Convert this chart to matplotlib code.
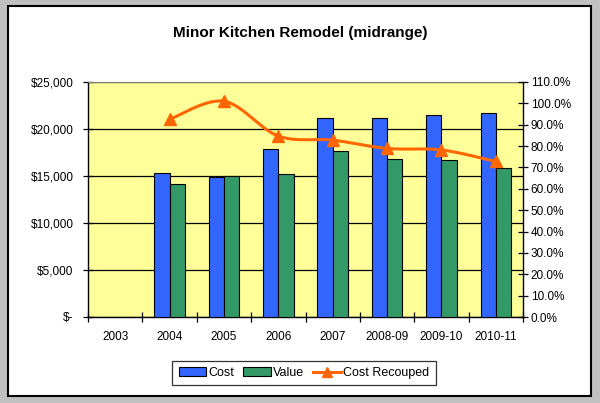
#!/usr/bin/env python3
"""Minor kitchen remodel: cost vs value with cost recouped line."""
import numpy as np
import matplotlib
matplotlib.use("Agg")
import matplotlib.pyplot as plt
from matplotlib.patches import Rectangle
from matplotlib.ticker import FuncFormatter, MultipleLocator

plt.rcParams['font.family'] = ['Liberation Sans', 'DejaVu Sans']

years = ['2003', '2004', '2005', '2006', '2007', '2008-09', '2009-10', '2010-11']
cost = [np.nan, 15300, 14900, 17900, 21200, 21200, 21450, 21750]
value = [np.nan, 14200, 15050, 15250, 17650, 16850, 16750, 15800]
recouped = [np.nan, 92.5, 101.0, 84.7, 82.8, 78.9, 78.2, 72.8]

BLUE = '#3366FF'
GREEN = '#339966'
ORANGE = '#FF6600'
YELLOW = '#FFFF99'


def smooth(xs, ys, n=30):
    # catmull-rom curve through the points (like Excel's smoothed line)
    px = np.array(xs, float); py = np.array(ys, float)
    px = np.r_[px[0], px, px[-1]]; py = np.r_[py[0], py, py[-1]]
    outx, outy = [], []
    t = np.linspace(0, 1, n)
    for i in range(1, len(px) - 2):
        for p, out in ((px, outx), (py, outy)):
            p0, p1, p2, p3 = p[i-1], p[i], p[i+1], p[i+2]
            out.extend(0.5*((2*p1) + (-p0+p2)*t + (2*p0-5*p1+4*p2-p3)*t**2 + (-p0+3*p1-3*p2+p3)*t**3))
    return outx, outy


fig = plt.figure(figsize=(6.0, 4.03), dpi=100)
fig.patch.set_facecolor('#C0C0C0')
fig.patches.append(Rectangle((8/600, 7/403), 583/600, 390/403, transform=fig.transFigure,
                             facecolor='white', edgecolor='black', linewidth=1.5, zorder=-10))

ax = fig.add_axes([88/600, 86/403, 435/600, 235/403])
ax.set_facecolor(YELLOW)
x = np.arange(len(years))
w = 0.28
ax.bar(x - w/2, cost, w, color=BLUE, edgecolor='black', linewidth=0.8, label='Cost', zorder=3)
ax.bar(x + w/2, value, w, color=GREEN, edgecolor='black', linewidth=0.8, label='Value', zorder=3)
ax.set_xlim(-0.5, len(years) - 0.5)
ax.set_ylim(0, 25000)
ax.yaxis.set_major_locator(MultipleLocator(5000))
ax.yaxis.set_major_formatter(FuncFormatter(lambda v, p: '$-' if v == 0 else f'${v:,.0f}'))
ax.grid(True, axis='y', color='black', linewidth=0.9, zorder=1)
ax.set_axisbelow(True)
ax.set_xticks(np.arange(-0.5, len(years)))
ax.set_xticklabels([])
ax.set_xticks(x, minor=True)
ax.set_xticklabels(years, minor=True)
ax.tick_params(axis='x', which='minor', length=0, pad=10, labelsize=8.5)
ax.tick_params(axis='x', which='major', direction='inout', length=7, width=0.9)
ax.tick_params(axis='y', direction='inout', length=7, width=0.9, labelsize=8.5, pad=7)
for s in ('left', 'bottom'):
    ax.spines[s].set_linewidth(1.0)
ax.spines['top'].set_color('#808080')
ax.spines['right'].set_visible(False)

ax2 = ax.twinx()
ax2.set_ylim(0, 110)
ax2.yaxis.set_major_locator(MultipleLocator(10))
ax2.yaxis.set_major_formatter(FuncFormatter(lambda v, p: f'{v:.1f}%'))
ax2.tick_params(axis='y', direction='inout', length=7, width=0.9, labelsize=8.5, pad=2)
ax2.spines['right'].set_linewidth(1.0)
for s in ('left', 'top', 'bottom'):
    ax2.spines[s].set_visible(False)
ok = [i for i, r in enumerate(recouped) if not np.isnan(r)]
sx, sy = smooth([x[i] for i in ok], [recouped[i] for i in ok])
ax2.plot(sx, sy, color=ORANGE, linewidth=2.2, zorder=4)
ax2.plot([x[i] for i in ok], [recouped[i] for i in ok], linestyle='none', marker='^',
         markersize=9, color=ORANGE, zorder=5)
line_handle, = ax2.plot([], [], color=ORANGE, linewidth=2.2, marker='^', markersize=7, label='Cost Recouped')

h1, l1 = ax.get_legend_handles_labels()
leg = fig.legend(h1 + [line_handle], l1 + ['Cost Recouped'], loc='center', bbox_to_anchor=(304/600, 30/403),
                 ncol=3, fontsize=9, frameon=True, fancybox=False, edgecolor='black',
                 handlelength=2.2, handletextpad=0.2, columnspacing=0.7, borderpad=0.5)
leg.get_frame().set_linewidth(0.9)

fig.text(300/600, 1 - 33/403, 'Minor Kitchen Remodel (midrange)', ha='center', va='center',
         fontsize=11, fontweight='bold')

fig.savefig('out.png', dpi=100, facecolor=fig.get_facecolor())
